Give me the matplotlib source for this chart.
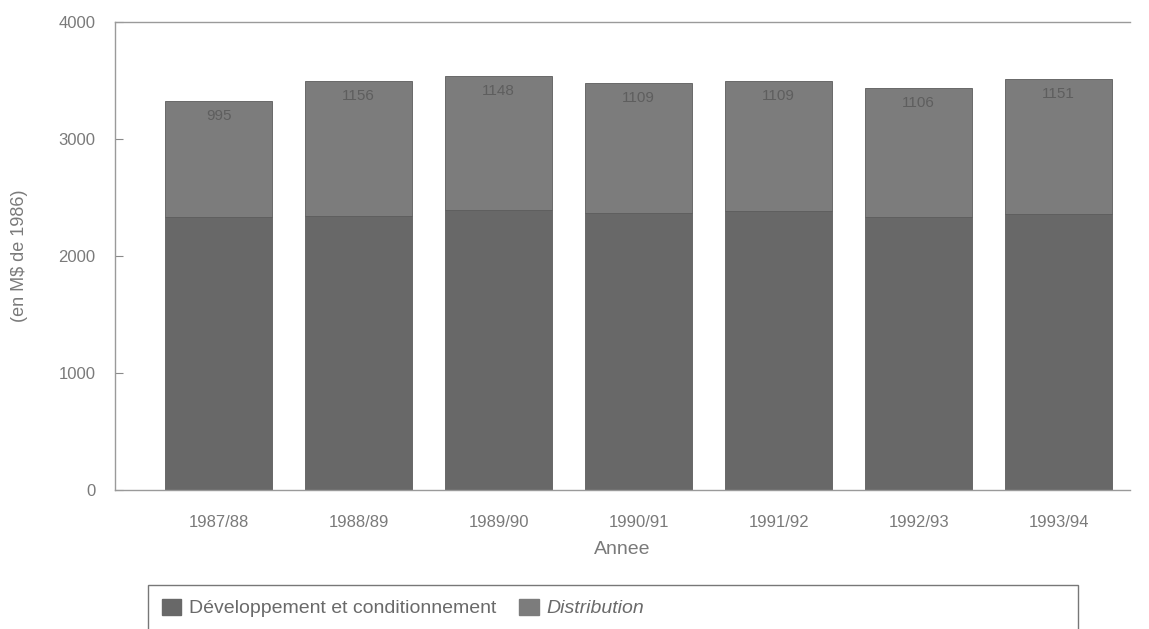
import matplotlib
matplotlib.use("Agg")
import matplotlib.pyplot as plt
from matplotlib.patches import Rectangle, Patch

categories = ["1987/88", "1988/89", "1989/90", "1990/91", "1991/92", "1992/93", "1993/94"]
developpement = [2330, 2340, 2390, 2370, 2387, 2330, 2362]
distribution = [995, 1156, 1148, 1109, 1109, 1106, 1151]
yticks = [0, 1000, 2000, 3000, 4000]

plt.rcParams['font.family'] = ['Liberation Sans Narrow', 'Liberation Sans', 'DejaVu Sans']

col_dev = "#686868"
col_dist = "#7c7c7c"
txt = "#7a7a7a"

fig = plt.figure(figsize=(11.49, 6.29), dpi=100)
ax = fig.add_axes([115/1149, 1-490/629, (1130-115)/1149, (490-22)/629])

x = list(range(len(categories)))
ax.bar(x, developpement, width=0.76, color=col_dev, edgecolor="#5c5c5c", linewidth=0.6)
ax.bar(x, distribution, width=0.76, bottom=developpement, color=col_dist,
       edgecolor="#5c5c5c", linewidth=0.6)
for xi, d, s in zip(x, developpement, distribution):
    ax.text(xi, d + s - 130, f"{s}", ha="center", va="center", fontsize=11, color="#5e5e5e")

ax.set_xlim(-0.74, 6.51)
ax.set_ylim(0, 4000)
ax.set_yticks(yticks)
ax.set_yticklabels([str(v) for v in yticks])
ax.set_xticks(x)
ax.set_xticklabels(categories)
ax.tick_params(axis="y", direction="in", length=6, color="#8a8a8a", labelsize=12,
               labelcolor=txt, pad=14)
ax.tick_params(axis="x", length=0, labelsize=12, labelcolor=txt, pad=18)
ax.spines["right"].set_visible(False)
for side in ["left", "bottom", "top"]:
    ax.spines[side].set_color("#9a9a9a")
    ax.spines[side].set_linewidth(1.0)
ax.set_xlabel("Annee", fontsize=14, color=txt, labelpad=8)
ax.set_ylabel("(en M$ de 1986)", fontsize=13, color=txt, labelpad=22)

# legend box (cut off at bottom as in reference)
box = Rectangle((148/1149, -0.05), (1078-148)/1149, (629-585)/629 + 0.05,
                transform=fig.transFigure, fill=False, edgecolor="#777777", linewidth=1.0)
fig.patches.append(box)
handles = [Patch(facecolor=col_dev, edgecolor=col_dev),
           Patch(facecolor=col_dist, edgecolor=col_dist)]
leg = fig.legend(handles, ["Développement et conditionnement", "Distribution"],
                 loc="center left", bbox_to_anchor=(144/1149, 1-608/629), ncol=2,
                 frameon=False, fontsize=14, handlelength=1.0, handleheight=0.9,
                 handletextpad=0.4, columnspacing=1.2)
for t in leg.get_texts():
    t.set_color("#6a6a6a")
leg.get_texts()[1].set_style("italic")

fig.savefig("out.png", dpi=100)
